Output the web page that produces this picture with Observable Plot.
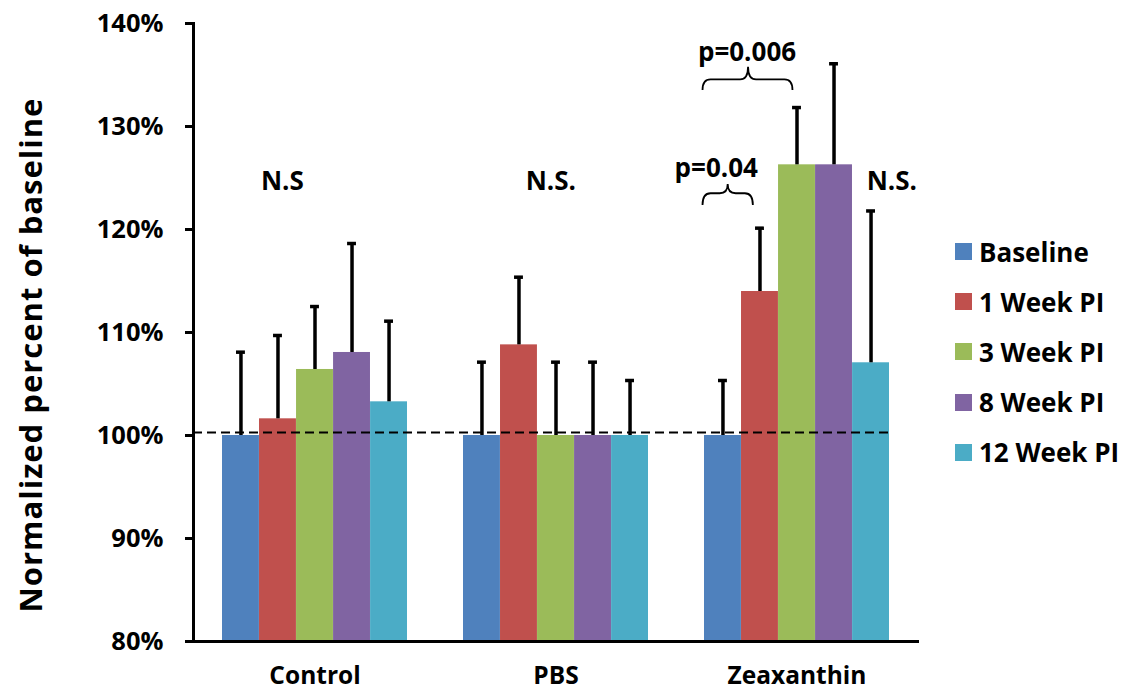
<!DOCTYPE html>
<html><head><meta charset="utf-8">
<script src="https://cdn.jsdelivr.net/npm/d3@7"></script>
<script src="https://cdn.jsdelivr.net/npm/@observablehq/plot@0.6"></script>
<style>
body{margin:0;background:#fff;font-family:"Open Sans",sans-serif;}
#wrap{position:relative;width:1123px;height:691px;overflow:hidden;}
#wrap svg{position:absolute;left:0;top:0;}
#ytitle{position:absolute;left:30px;top:355px;transform:translate(-50%,-50%) rotate(-90deg);font-size:31px;letter-spacing:1px;font-weight:700;white-space:nowrap;color:#000;}
#legend{position:absolute;left:955px;top:0;}
.row{position:absolute;left:0;height:36px;display:flex;align-items:center;white-space:nowrap;font-size:26px;font-weight:700;color:#000;}
.sw{width:17px;height:17px;margin-right:7px;flex:none;}
</style></head>
<body><div id="wrap"><div id="ytitle">Normalized percent of baseline</div><div id="legend"></div></div>
<script>
// ---- data ----
const groups = ["Control", "PBS", "Zeaxanthin"];
const series = ["Baseline", "1 Week PI", "3 Week PI", "8 Week PI", "12 Week PI"];
const colors = ["#4F81BD", "#C0504D", "#9BBB59", "#8064A2", "#4BACC6"];
const controlMean = [100, 101.62, 106.41, 108.06, 103.27];
const pbsMean = [100, 108.8, 100, 100, 100];
const zeaMean = [100, 113.98, 126.28, 126.28, 107.06];
const controlUpper = [108.09, 109.71, 112.52, 118.64, 111.1];
const pbsUpper = [107.12, 115.37, 107.12, 107.12, 105.34];
const zeaUpper = [105.34, 120.13, 131.84, 136.09, 121.8];
const yTicks = [80, 90, 100, 110, 120, 130, 140];
const refLine = 100.29;
// annotations (slot = offset in bar widths from the group's left edge)
const noteLabels = ["N.S", "N.S.", "N.S.", "p=0.04", "p=0.006"];
const noteGroups = ["Control", "PBS", "Zeaxanthin", "Zeaxanthin", "Zeaxanthin"];
const noteSlots = [1.62, 2.36, 5.06, 0.32, 1.15];
const noteY = [123.79, 123.79, 123.79, 125.08, 136.4];
// braces
const braceGroups = ["Zeaxanthin", "Zeaxanthin"];
const braceLeft = [-0.04, -0.04];
const braceRight = [1.32, 2.39];
const braceTip = [0.64, 1.19];
const braceLineY = [123.47, 134.53];
const braceTipY = [124.37, 135.76];
const braceEndY = [122.33, 133.5];

const means = [controlMean, pbsMean, zeaMean];
const uppers = [controlUpper, pbsUpper, zeaUpper];
const data = groups.flatMap((g, gi) => series.map((s, si) => ({group: g, series: s, si, mean: means[gi][si], upper: uppers[gi][si]})));

// ---- layout ----
const W = 1123, H = 691, mL = 193, mR = 206, mT = 23, mB = 50;
const padInner = 0.233, padOuter = padInner / 2;
const frameW = W - mL - mR;
const step = frameW / (groups.length - padInner + 2 * padOuter);
const bw = step * (1 - padInner);
const barW = bw / series.length;
const capW = 9;
const yMin = yTicks[0];

const marks = [];
series.forEach((s, i) => {
  const d = data.filter(r => r.si === i);
  marks.push(Plot.barY(d, {x: "group", y1: () => yMin, y2: "mean", fill: colors[i],
    insetLeft: i * barW, insetRight: (series.length - 1 - i) * barW}));
});
series.forEach((s, i) => {
  const d = data.filter(r => r.si === i);
  const c = (i + 0.5) * barW;
  marks.push(Plot.ruleX(d, {x: "group", y1: "mean", y2: "upper", dx: c - bw / 2, stroke: "black", strokeWidth: 3.5}));
  marks.push(Plot.tickY(d, {x: "group", y: "upper", insetLeft: c - capW / 2, insetRight: bw - c - capW / 2, stroke: "black", strokeWidth: 3.5}));
});
marks.push(Plot.ruleY([refLine], {stroke: "black", strokeWidth: 2, strokeDasharray: "9,5", insetRight: 26}));
marks.push(Plot.axisY({ticks: yTicks, tickFormat: d => d + "%", tickSize: 8, tickPadding: 22, strokeWidth: 3, fontSize: 25.5, fontWeight: "bold", label: null}));
marks.push(Plot.axisX({tickSize: 0, tickPadding: 25, fontSize: 24.5, fontWeight: "bold", label: null}));
marks.push(Plot.frame({anchor: "left", strokeWidth: 3}));
marks.push(Plot.frame({anchor: "bottom", strokeWidth: 3}));
noteLabels.forEach((t, k) => {
  marks.push(Plot.text([k], {x: () => noteGroups[k], y: () => noteY[k], text: () => t,
    dx: noteSlots[k] * barW - bw / 2, lineAnchor: "bottom", textAnchor: "middle",
    fontSize: 26, fontWeight: "bold", fill: "black"}));
});
braceGroups.forEach((g, k) => {
  marks.push((index, scales) => {
    const x0 = scales.x(g);
    const xl = x0 + braceLeft[k] * barW, xr = x0 + braceRight[k] * barW, xm = x0 + braceTip[k] * barW;
    const yl = scales.y(braceLineY[k]), yt = scales.y(braceTipY[k]), ye = scales.y(braceEndY[k]);
    const r = 8;
    const p = `M${xl},${ye} Q${xl},${yl} ${xl + r},${yl} L${xm - r},${yl} Q${xm},${yl} ${xm},${yt} Q${xm},${yl} ${xm + r},${yl} L${xr - r},${yl} Q${xr},${yl} ${xr},${ye}`;
    const path = document.createElementNS("http://www.w3.org/2000/svg", "path");
    path.setAttribute("d", p);
    path.setAttribute("fill", "none");
    path.setAttribute("stroke", "black");
    path.setAttribute("stroke-width", "1.8");
    return path;
  });
});

const chart = Plot.plot({
  width: W, height: H, marginLeft: mL, marginRight: mR, marginTop: mT, marginBottom: mB,
  x: {type: "band", domain: groups, paddingInner: padInner, paddingOuter: padOuter, align: 0.5},
  y: {domain: [yTicks[0], yTicks[yTicks.length - 1]]},
  style: {fontFamily: '"Open Sans", sans-serif', color: "black", background: "white", overflow: "visible"},
  marks
});
document.getElementById("wrap").prepend(chart);

// legend
const legend = d3.select("#legend");
series.forEach((s, i) => {
  const row = legend.append("div").attr("class", "row").style("top", (251.7 + 50.1 * i - 18) + "px");
  row.append("div").attr("class", "sw").style("background", colors[i]);
  row.append("span").text(s);
});
</script>
</body></html>
